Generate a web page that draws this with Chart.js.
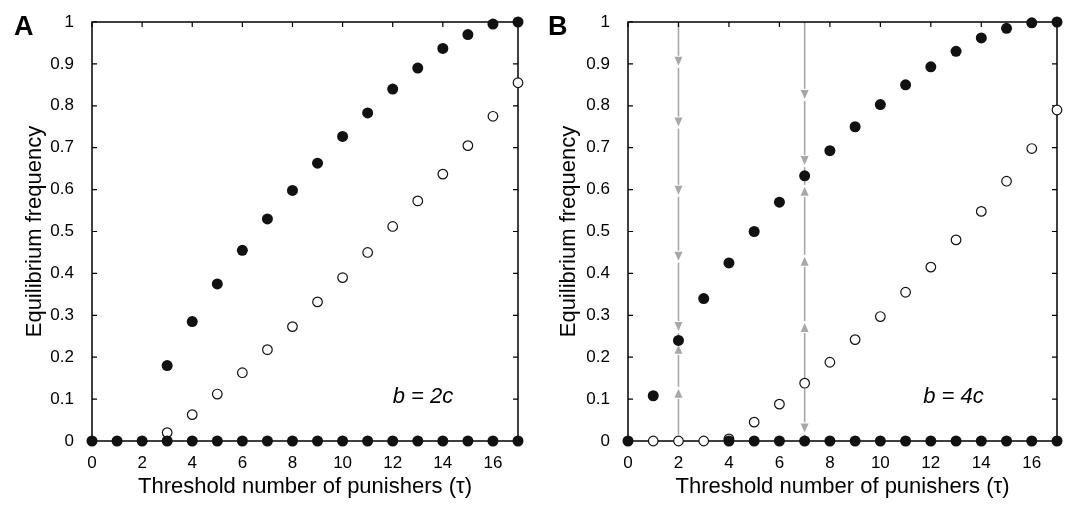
<!DOCTYPE html>
<html><head><meta charset="utf-8">
<script src="https://cdn.jsdelivr.net/npm/chart.js@4"></script>
<style>
html,body{margin:0;padding:0;background:#fff;}
#wrap{position:relative;width:1068px;height:516px;}
canvas{position:absolute;top:0;}
</style></head><body>
<div id="wrap">
<div style="position:absolute;left:0;top:0;width:534px;height:516px"><canvas id="a"></canvas></div>
<div style="position:absolute;left:534px;top:0;width:534px;height:516px"><canvas id="b"></canvas></div>
</div>
<script>
const xTicks = [0,2,4,6,8,10,12,14,16];
const yTicks = [0,0.1,0.2,0.3,0.4,0.5,0.6,0.7,0.8,0.9,1];

// Panel A
const aFilledX = [3,4,5,6,7,8,9,10,11,12,13,14,15,16,17];
const aFilledY = [0.18,0.285,0.375,0.455,0.53,0.598,0.663,0.727,0.783,0.84,0.89,0.937,0.97,0.995,1.0];
const aZeroX = [0,1,2,3,4,5,6,7,8,9,10,11,12,13,14,15,16,17];
const aOpenX = [3,4,5,6,7,8,9,10,11,12,13,14,15,16,17];
const aOpenY = [0.02,0.063,0.112,0.163,0.218,0.273,0.332,0.39,0.45,0.512,0.573,0.637,0.705,0.775,0.855];

// Panel B
const bFilledX = [1,2,3,4,5,6,7,8,9,10,11,12,13,14,15,16,17];
const bFilledY = [0.108,0.24,0.34,0.425,0.5,0.57,0.633,0.693,0.75,0.803,0.85,0.893,0.93,0.962,0.985,0.998,1.0];
const bZeroX = [0,4,5,6,7,8,9,10,11,12,13,14,15,16,17];
const bOpenX = [1,2,3,4,5,6,7,8,9,10,11,12,13,14,15,16,17];
const bOpenY = [0,0,0,0.005,0.045,0.088,0.138,0.188,0.242,0.297,0.355,0.415,0.48,0.548,0.62,0.698,0.79];

// Arrows panel B: segments [x, yFrom, yTo], heads [x, y, dir]
const arrowSegs = [[2,1,0.25],[2,0.015,0.23],[7,1,0.645],[7,0.15,0.62],[7,0.125,0.01]];
const arrowHeads = [[2,0.905,-1],[2,0.76,-1],[2,0.597,-1],[2,0.44,-1],[2,0.272,-1],[2,0.115,1],[2,0.22,1],
  [7,0.826,-1],[7,0.668,-1],[7,0.597,1],[7,0.43,1],[7,0.272,1],[7,0.03,-1]];

const font = "'Liberation Sans', Arial, sans-serif";

function pts(xs, ys){ return xs.map((x,i)=>({x:x,y:ys?ys[i]:0})); }

function framePlugin(letter, label, arrows){
  return {
    id:'frame'+letter,
    beforeDatasetsDraw(chart){
      const ctx=chart.ctx, xs=chart.scales.x, ys=chart.scales.y, ca=chart.chartArea;
      ctx.save();
      if(arrows){
        ctx.strokeStyle='#a8a8a8'; ctx.fillStyle='#a8a8a8'; ctx.lineWidth=1.6;
        arrowSegs.forEach(s=>{const px=xs.getPixelForValue(s[0]);
          ctx.beginPath();ctx.moveTo(px,ys.getPixelForValue(s[1]));ctx.lineTo(px,ys.getPixelForValue(s[2]));ctx.stroke();});
        arrowHeads.forEach(h=>{const px=xs.getPixelForValue(h[0]),py=ys.getPixelForValue(h[1]);
          ctx.fillStyle='#fff';ctx.fillRect(px-3,py-6,6,12);
          ctx.fillStyle='#a8a8a8';ctx.beginPath();
          if(h[2]<0){ctx.moveTo(px-4,py-5);ctx.lineTo(px+4,py-5);ctx.lineTo(px,py+4);}
          else{ctx.moveTo(px-4,py+5);ctx.lineTo(px+4,py+5);ctx.lineTo(px,py-4);}
          ctx.fill();});
      }
      ctx.strokeStyle='#000'; ctx.lineWidth=1.5;
      ctx.strokeRect(ca.left,ca.top,ca.right-ca.left,ca.bottom-ca.top);
      ctx.lineWidth=1.2;
      xTicks.forEach(v=>{const p=xs.getPixelForValue(v);ctx.beginPath();
        ctx.moveTo(p,ca.bottom);ctx.lineTo(p,ca.bottom-5);ctx.moveTo(p,ca.top);ctx.lineTo(p,ca.top+5);ctx.stroke();});
      yTicks.forEach(v=>{const p=ys.getPixelForValue(v);ctx.beginPath();
        ctx.moveTo(ca.left,p);ctx.lineTo(ca.left+5,p);ctx.moveTo(ca.right,p);ctx.lineTo(ca.right-5,p);ctx.stroke();});
      ctx.fillStyle='#000';
      ctx.font="bold 27px "+font; ctx.textAlign='left'; ctx.textBaseline='middle';
      ctx.fillText(letter, 14, 28);
      ctx.font="italic 22px "+font; ctx.textAlign='left'; ctx.textBaseline='middle';
      const lx=xs.getPixelForValue(label.x), ly=ys.getPixelForValue(label.y);
      ctx.fillText(label.b, lx, ly);
      ctx.restore();
    }
  };
}

function make(id, zeroX, filledX, filledY, openX, openY, letter, label, axisW, rightPad, arrows){
  new Chart(document.getElementById(id), {
    type:'scatter',
    data:{datasets:[
      {data:pts(zeroX), backgroundColor:'#111', borderColor:'#111', pointRadius:5.5, borderWidth:0, clip:false},
      {data:pts(filledX,filledY), backgroundColor:'#111', borderColor:'#111', pointRadius:5.5, borderWidth:0, clip:false},
      {data:pts(openX,openY), backgroundColor:'#fff', borderColor:'#111', pointRadius:4.8, borderWidth:1.2, clip:false}
    ]},
    options:{
      responsive:true, maintainAspectRatio:false, animation:false,
      layout:{padding:{left:18,right:rightPad,top:22,bottom:12}},
      plugins:{legend:{display:false},tooltip:{enabled:false}},
      scales:{
        x:{type:'linear',min:0,max:17,
          afterBuildTicks(s){s.ticks=xTicks.map(v=>({value:v}));},
          afterFit(s){s.height=63;},
          grid:{display:false}, border:{display:false},
          ticks:{color:'#000',font:{family:font,size:17},padding:4,maxRotation:0,autoSkip:false},
          title:{display:true,text:'Threshold number of punishers (τ)',color:'#000',font:{family:font,size:22},padding:{top:0}}},
        y:{type:'linear',min:0,max:1,
          afterBuildTicks(s){s.ticks=yTicks.map(v=>({value:v}));},
          afterFit(s){s.width=axisW-18;},
          grid:{display:false}, border:{display:false},
          ticks:{color:'#000',font:{family:font,size:17},padding:10,autoSkip:false,callback:v=>String(+v.toFixed(1))},
          title:{display:true,text:'Equilibrium frequency',color:'#000',font:{family:font,size:22},padding:{bottom:4}}}
      }
    },
    plugins:[framePlugin(letter,label,arrows)]
  });
}
make('a', aZeroX, aFilledX, aFilledY, aOpenX, aOpenY, 'A', {x:12.0,y:0.105,b:'b = 2c'}, 92, 16, false);
make('b', bZeroX, bFilledX, bFilledY, bOpenX, bOpenY, 'B', {x:11.7,y:0.105,b:'b = 4c'}, 94, 11, true);
</script>
</body></html>
